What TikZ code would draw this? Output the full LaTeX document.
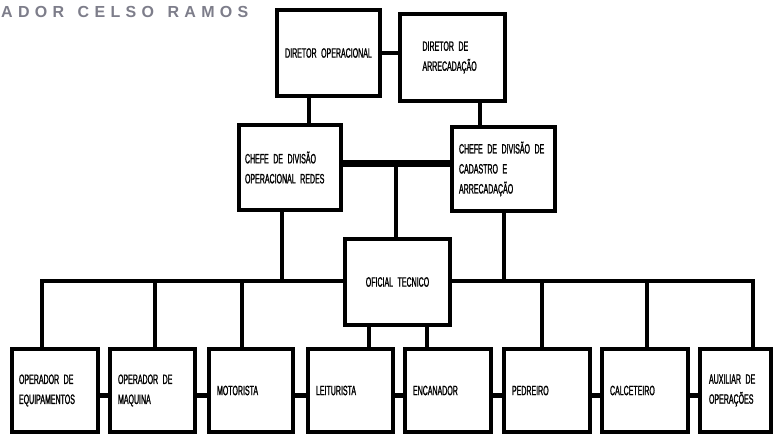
\documentclass[tikz,border=0pt]{standalone}
\usepackage{fontspec}
\setmainfont{Liberation Sans}
\newfontfamily\boxfont[FakeStretch=0.52,FakeBold=1.2,WordSpace=0.6]{Liberation Sans}
\newfontfamily\headfont[LetterSpace=33,WordSpace=1.4]{Liberation Sans Bold}
\definecolor{headgray}{RGB}{125,125,138}

\begin{document}
\hyphenpenalty=10000
\begin{tikzpicture}[x=1pt,y=-1pt,
  box/.style={draw, line width=4pt, inner xsep=8pt, inner ysep=2pt, align=left,
    font=\boxfont\fontsize{13.5}{20}\selectfont},
  link/.style={line width=4pt}]
\useasboundingbox (0,0) rectangle (776,436);

% Header
\node[headgray, anchor=west, inner sep=0pt, font=\headfont\fontsize{16}{18}\selectfont] (head) at (1,12) {ADOR CELSO RAMOS};

% Directors
\node[box, text width=97pt, inner xsep=3pt, minimum height=86pt, align=center] (dirop) at (328.5,53) {DIRETOR OPERACIONAL};
\node[box, text width=60pt, inner xsep=22.5pt, minimum height=87pt] (dirarr) at (452.5,57.5) {DIRETOR DE\\ARRECADAÇÃO};

% Division heads
\node[box, text width=90pt, inner xsep=6pt, minimum height=85pt] (chop) at (290,167.5) {CHEFE DE DIVISÃO\\OPERACIONAL REDES};
\node[box, text width=89pt, inner xsep=7pt, minimum height=84pt] (chcad) at (503.5,169) {CHEFE DE DIVISÃO DE\\CADASTRO E\\ARRECADAÇÃO};

% Technical officer
\node[box, text width=95pt, inner xsep=5pt, minimum height=86pt, align=center] (ofc) at (397.5,282) {OFICIAL TECNICO};

% Staff
\node[box, text width=72pt, inner xsep=7pt, minimum height=83pt] (b1) at (55,390.5) {OPERADOR DE\\EQUIPAMENTOS};
\node[box, text width=69pt, minimum height=83pt] (b2) at (152.5,390.5) {OPERADOR DE\\MAQUINA};
\node[box, text width=68pt, minimum height=83pt] (b3) at (251,390.5) {MOTORISTA};
\node[box, text width=69pt, minimum height=83pt] (b4) at (350.5,390.5) {LEITURISTA};
\node[box, text width=70pt, minimum height=83pt] (b5) at (448,390.5) {ENCANADOR};
\node[box, text width=70pt, minimum height=83pt] (b6) at (547,390.5) {PEDREIRO};
\node[box, text width=70pt, minimum height=83pt] (b7) at (645,390.5) {CALCETEIRO};
\node[box, text width=53pt, inner xsep=9pt, minimum height=83pt] (b8) at (735.5,390.5) {AUXILIAR DE\\OPERAÇÕES};

% Links between directors and heads
\draw[link] (dirop.east) -- (dirop.east -| dirarr.west);
\draw[link] ([xshift=-20pt]dirop.south) -- ([xshift=-20pt]dirop.south |- chop.north);
\draw[link] ([xshift=27pt]dirarr.south) -- ([xshift=27pt]dirarr.south |- chcad.north);

\coordinate (mid) at (396,163);
\draw[line width=7pt] (chop.east |- mid) -- (chcad.west |- mid);
\draw[link] (mid) -- (mid |- ofc.north);

% Main bar
\coordinate (barL) at (42,281);
\coordinate (barR) at (753,281);
\draw[link] (b1.north -| barL) -- (barL) -- (ofc.west |- barL);
\draw[link] (ofc.east |- barR) -- (barR) -- (b8.north -| barR);
\draw[link] ([xshift=-8pt]chop.south) -- ([xshift=-8pt]chop.south |- barL);
\draw[link] (chcad.south) -- (chcad.south |- barR);
\foreach \n/\x in {b2/155,b3/242,b6/542,b7/647}
  \draw[link] (\x,281) -- (\x,281 |- \n.north);
\draw[link] ([xshift=-29pt]ofc.south) -- ([xshift=-29pt]ofc.south |- b4.north);
\draw[link] ([xshift=29pt]ofc.south) -- ([xshift=29pt]ofc.south |- b5.north);

% Short links along the bottom row
\foreach \a/\b in {b1/b2,b2/b3,b3/b4,b4/b5,b5/b6,b6/b7,b7/b8}
  \draw[line width=5pt] ([yshift=-4.5pt]\a.east) -- ([yshift=-4.5pt]\a.east -| \b.west);

\end{tikzpicture}
\end{document}
